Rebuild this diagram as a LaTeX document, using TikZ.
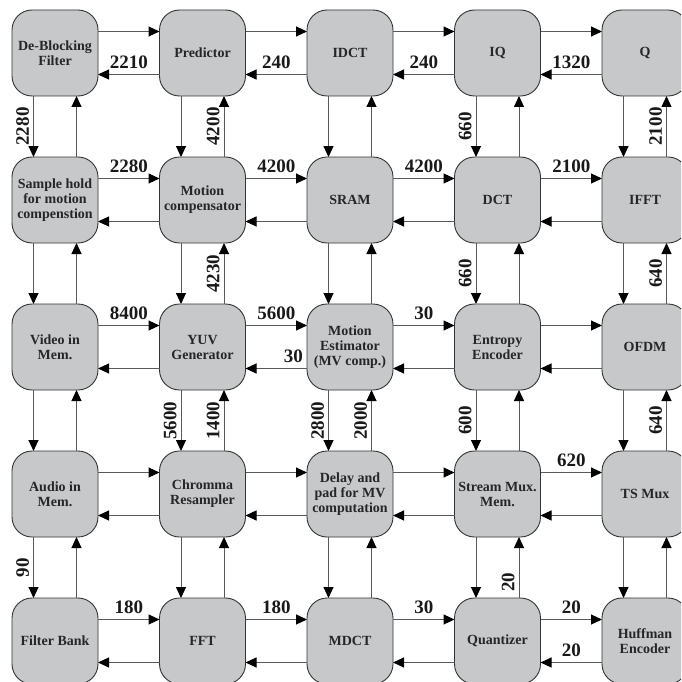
\documentclass[tikz,border=0pt]{standalone}
\usepackage{fontspec}
\setmainfont{Liberation Serif}
\usetikzlibrary{arrows.meta,positioning}
\definecolor{blockgray}{RGB}{199,200,202}
\tikzset{
    hwblock/.style={draw=black!80, line width=0.9pt, fill=blockgray, rounded corners=20pt,
        minimum width=86pt, minimum height=86pt, inner sep=1pt, outer sep=0pt, align=center,
        font=\fontsize{14}{15}\selectfont\bfseries, text=black!85},
    busarrow/.style={draw=black!65, line width=1pt, -{Triangle[length=11pt,width=10pt,color=black]}},
    ratelabel/.style={font=\fontsize{19}{20}\selectfont\bfseries, inner sep=5pt, text=black!90},
    vratelabel/.style={ratelabel, rotate=90, anchor=south, inner sep=4pt}
}

\begin{document}
\begin{tikzpicture}[node distance=61pt and 61.5pt]
\useasboundingbox (0,0) rectangle (681pt,-682pt);
\clip (0,0) rectangle (681pt,-682pt);
% row 1
\node[hwblock] (deblock) at (55pt,-53pt) {De-Blocking\\Filter};
\node[hwblock, right=of deblock] (predictor) {Predictor};
\node[hwblock, right=of predictor] (idct) {IDCT};
\node[hwblock, right=of idct] (iq) {IQ};
\node[hwblock, right=of iq] (q) {Q};
% row 2
\node[hwblock, below=of deblock] (samplehold) {Sample hold\\for motion\\compenstion};
\node[hwblock, right=of samplehold] (motioncomp) {Motion\\compensator};
\node[hwblock, right=of motioncomp] (sram) {SRAM};
\node[hwblock, right=of sram] (dct) {DCT};
\node[hwblock, right=of dct] (ifft) {IFFT};
% row 3
\node[hwblock, below=of samplehold] (videomem) {Video in\\Mem.};
\node[hwblock, right=of videomem] (yuv) {YUV\\Generator};
\node[hwblock, right=of yuv] (motionest) {Motion\\Estimator\\(MV comp.)};
\node[hwblock, right=of motionest] (entropy) {Entropy\\Encoder};
\node[hwblock, right=of entropy] (ofdm) {OFDM};
% row 4
\node[hwblock, below=of videomem] (audiomem) {Audio in\\Mem.};
\node[hwblock, right=of audiomem] (chromma) {Chromma\\Resampler};
\node[hwblock, right=of chromma] (delaypad) {Delay and\\pad for MV\\computation};
\node[hwblock, right=of delaypad] (streammux) {Stream Mux.\\Mem.};
\node[hwblock, right=of streammux] (tsmux) {TS Mux};
% row 5
\node[hwblock, below=of audiomem] (filterbank) {Filter Bank};
\node[hwblock, right=of filterbank] (fft) {FFT};
\node[hwblock, right=of fft] (mdct) {MDCT};
\node[hwblock, right=of mdct] (quantizer) {Quantizer};
\node[hwblock, right=of quantizer] (huffman) {Huffman\\Encoder};

% horizontal links: left/right/rightward label/leftward label/leftward label pos
\foreach \a/\b/\up/\dn/\dpos in {
    deblock/predictor/{}/2210/0.5, predictor/idct/{}/240/0.5,
    idct/iq/{}/240/0.5, iq/q/{}/1320/0.5,
    samplehold/motioncomp/2280/{}/0.5, motioncomp/sram/4200/{}/0.5,
    sram/dct/4200/{}/0.5, dct/ifft/2100/{}/0.5,
    videomem/yuv/8400/{}/0.5, yuv/motionest/5600/30/0.22,
    motionest/entropy/30/{}/0.5, entropy/ofdm/{}/{}/0.5,
    audiomem/chromma/{}/{}/0.5, chromma/delaypad/{}/{}/0.5,
    delaypad/streammux/{}/{}/0.5, streammux/tsmux/620/{}/0.5,
    filterbank/fft/180/{}/0.5, fft/mdct/180/{}/0.5,
    mdct/quantizer/30/{}/0.5, quantizer/huffman/20/20/0.5}{
  \draw[busarrow] ([yshift=21.5pt]\a.east) -- node[above, ratelabel] {\up} ([yshift=21.5pt]\b.west);
  \draw[busarrow] ([yshift=-21.5pt]\b.west) -- node[pos=\dpos, above, ratelabel] {\dn} ([yshift=-21.5pt]\a.east);
}

% vertical links: top/bottom/downward label/upward label/upward label pos
\foreach \a/\b/\dn/\up/\upos in {
    deblock/samplehold/2280/{}/0.5, samplehold/videomem/{}/{}/0.5,
    videomem/audiomem/{}/{}/0.5, audiomem/filterbank/90/{}/0.5,
    predictor/motioncomp/{}/4200/0.5, motioncomp/yuv/{}/4230/0.5,
    yuv/chromma/5600/1400/0.5, chromma/fft/{}/{}/0.5,
    idct/sram/{}/{}/0.5, sram/motionest/{}/{}/0.5,
    motionest/delaypad/2800/2000/0.5, delaypad/mdct/{}/{}/0.5,
    iq/dct/660/{}/0.5, dct/entropy/660/{}/0.5,
    entropy/streammux/600/{}/0.5, streammux/quantizer/{}/20/0.26,
    q/ifft/{}/2100/0.5, ifft/ofdm/{}/640/0.5,
    ofdm/tsmux/{}/640/0.5, tsmux/huffman/{}/{}/0.5}{
  \draw[busarrow] ([xshift=-21.5pt]\a.south) -- node[vratelabel] {\dn} ([xshift=-21.5pt]\b.north);
  \draw[busarrow] ([xshift=21.5pt]\b.north) -- node[pos=\upos, vratelabel] {\up} ([xshift=21.5pt]\a.south);
}
\end{tikzpicture}
\end{document}
